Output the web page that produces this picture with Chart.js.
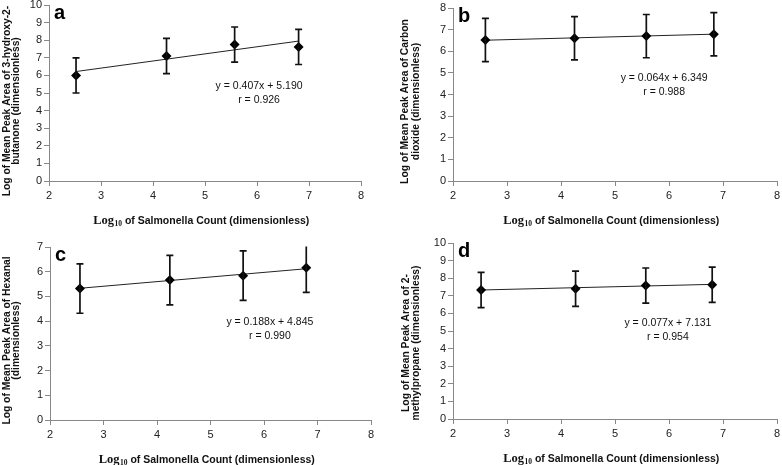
<!DOCTYPE html>
<html>
<head>
<meta charset="utf-8">
<script src="https://cdn.jsdelivr.net/npm/chart.js@4.4.1/dist/chart.umd.min.js"></script>
<style>
  html,body{margin:0;padding:0;background:#fff;}
  body{width:782px;height:465px;position:relative;overflow:hidden;}
  .panel{position:absolute;}
</style>
</head>
<body>
<div class="panel" style="left:0;top:0;width:391px;height:232px"><canvas id="ca" width="391" height="232"></canvas></div>
<div class="panel" style="left:391px;top:0;width:391px;height:232px"><canvas id="cb" width="391" height="232"></canvas></div>
<div class="panel" style="left:0;top:232px;width:391px;height:233px"><canvas id="cc" width="391" height="233"></canvas></div>
<div class="panel" style="left:391px;top:232px;width:391px;height:233px"><canvas id="cd" width="391" height="233"></canvas></div>
<script>
// ---- Data ----
const xTitleLead = "Log";
const xTitleSub = "10";
const xTitleRest = " of Salmonella Count (dimensionless)";
const xTicksRange = [2, 8];

const labelA = "a";
const xA = [2.52, 4.26, 5.57, 6.80];
const yA = [6.00, 7.10, 7.75, 7.62];
const errA = [1.0, 1.0, 1.0, 1.0];
const trendXA = [2.52, 6.80];
const trendYA = [6.22, 7.95];
const eqA = ["y = 0.407x + 5.190", "r = 0.926"];
const yTitleA = ["Log of Mean Peak Area of 3-hydroxy-2-", "butanone (dimensionless)"];
const yMaxA = 10;

const labelB = "b";
const xB = [2.60, 4.25, 5.58, 6.83];
const yB = [6.52, 6.60, 6.70, 6.79];
const errB = [1.0, 1.0, 1.0, 1.0];
const trendXB = [2.60, 6.83];
const trendYB = [6.51, 6.79];
const eqB = ["y = 0.064x + 6.349", "r = 0.988"];
const yTitleB = ["Log of Mean Peak Area of Carbon", "dioxide (dimensionless)"];
const yMaxB = 8;

const labelC = "c";
const xC = [2.56, 4.24, 5.61, 6.79];
const yC = [5.32, 5.66, 5.84, 6.16];
const errC = [1.0, 1.0, 1.0, 1.0];
const trendXC = [2.56, 6.79];
const trendYC = [5.33, 6.12];
const eqC = ["y = 0.188x + 4.845", "r = 0.990"];
const yTitleC = ["Log of Mean Peak Area of Hexanal", "(dimensionless)"];
const yMaxC = 7;

const labelD = "d";
const xD = [2.52, 4.27, 5.57, 6.80];
const yD = [7.33, 7.40, 7.58, 7.63];
const errD = [1.0, 1.0, 1.0, 1.0];
const trendXD = [2.52, 6.80];
const trendYD = [7.33, 7.65];
const eqD = ["y = 0.077x + 7.131", "r = 0.954"];
const yTitleD = ["Log of Mean Peak Area of 2-", "methylpropane (dimensionless)"];
const yMaxD = 10;

// ---- Styling ----
const NARROW = "'Liberation Sans Narrow', 'Liberation Sans', Arial, sans-serif";
const SANS = "'Liberation Sans', Arial, sans-serif";
const SERIF = "'Liberation Serif', 'Times New Roman', serif";

const errorBarPlugin = {
  id: 'errbars',
  afterDatasetsDraw(chart, args, opts) {
    const {ctx, chartArea} = chart;
    const xs = chart.scales.x, ys = chart.scales.y;
    ctx.save();
    ctx.beginPath();
    ctx.rect(chartArea.left, chartArea.top - 0.5, chartArea.right - chartArea.left, chartArea.bottom - chartArea.top + 1);
    ctx.clip();
    ctx.strokeStyle = '#111';
    ctx.lineWidth = 1.7;
    opts.x.forEach((xv, i) => {
      const px = xs.getPixelForValue(xv);
      const lo = ys.getPixelForValue(opts.y[i] - opts.err[i]);
      const hi = ys.getPixelForValue(opts.y[i] + opts.err[i]);
      ctx.beginPath();
      ctx.moveTo(px, lo); ctx.lineTo(px, hi);
      ctx.moveTo(px - 3.5, lo); ctx.lineTo(px + 3.5, lo);
      ctx.moveTo(px - 3.5, hi); ctx.lineTo(px + 3.5, hi);
      ctx.stroke();
    });
    ctx.restore();
  }
};

const annotPlugin = {
  id: 'annot',
  afterDraw(chart, args, opts) {
    const {ctx, chartArea} = chart;
    const xs = chart.scales.x, ys = chart.scales.y;
    ctx.save();
    // panel letter
    ctx.fillStyle = '#000';
    ctx.font = "bold 20px " + SANS;
    ctx.textAlign = 'left';
    ctx.textBaseline = 'top';
    ctx.fillText(opts.letter, chartArea.left + 5, chartArea.top - 2);
    // equation
    ctx.font = "10.5px " + NARROW;
    ctx.fillStyle = '#111';
    ctx.textAlign = 'center';
    ctx.textBaseline = 'middle';
    const cx = xs.getPixelForValue(opts.eqX);
    const cy = ys.getPixelForValue(opts.eqY);
    opts.eq.forEach((t, i) => ctx.fillText(t, cx, cy + i * 14));

    // x-axis title: "Log" (serif) + subscript "10" + rest (sans)
    ctx.textAlign = 'left';
    ctx.textBaseline = 'alphabetic';
    const f1 = "bold 12.5px " + SERIF, f2 = "bold 7.5px " + SERIF, f3 = "bold 10.5px " + NARROW;
    ctx.font = f1; const w1 = ctx.measureText(xTitleLead).width;
    ctx.font = f2; const w2 = ctx.measureText(xTitleSub).width;
    ctx.font = f3; const w3 = ctx.measureText(xTitleRest).width;
    let tx = (chartArea.left + chartArea.right) / 2 - 4 - (w1 + w2 + w3) / 2;
    const base = opts.xTitleBase;
    ctx.fillStyle = '#111';
    ctx.font = f1; ctx.fillText(xTitleLead, tx, base); tx += w1;
    ctx.font = f2; ctx.fillText(xTitleSub, tx + 0.5, base + 2); tx += w2 + 0.5;
    ctx.font = f3; ctx.fillText(xTitleRest, tx, base);

    // y-axis title (two lines, rotated)
    ctx.save();
    const ycen = (chartArea.top + chartArea.bottom) / 2 + opts.yTitleDy;
    ctx.translate(opts.yTitleX, ycen);
    ctx.rotate(-Math.PI / 2);
    ctx.font = "bold 10.3px " + NARROW;
    ctx.textAlign = 'center';
    ctx.textBaseline = 'middle';
    opts.yTitle.forEach((t, i) => ctx.fillText(t, 0, i * opts.yTitleGap));
    ctx.restore();

    ctx.restore();
  }
};

function makeChart(id, p) {
  const W = p.w, H = p.h;
  new Chart(document.getElementById(id), {
    type: 'scatter',
    data: {
      datasets: [
        {
          type: 'line',
          data: p.trendX.map((x, i) => ({x, y: p.trendY[i]})),
          borderColor: '#222',
          borderWidth: 1,
          pointRadius: 0,
          fill: false,
          order: 2
        },
        {
          data: p.x.map((x, i) => ({x, y: p.y[i]})),
          pointStyle: 'rectRot',
          pointRadius: 5,
          backgroundColor: '#000',
          borderColor: '#000',
          borderWidth: 0,
          order: 1
        }
      ]
    },
    options: {
      responsive: false,
      animation: false,
      devicePixelRatio: 1,
      layout: { padding: { left: 0, top: p.top, right: W - p.right, bottom: 0 } },
      plugins: {
        legend: { display: false },
        tooltip: { enabled: false },
        errbars: { x: p.x, y: p.y, err: p.err },
        annot: { letter: p.letter, eq: p.eq, eqX: p.eqX, eqY: p.eqY,
                 xTitleBase: p.xTitleBase, yTitle: p.yTitle, yTitleX: p.yTitleX,
                 yTitleDy: p.yTitleDy, yTitleGap: p.yTitleGap }
      },
      scales: {
        x: {
          type: 'linear',
          min: xTicksRange[0], max: xTicksRange[1],
          ticks: { stepSize: 1, color: '#222', font: { family: SANS, size: 11 }, padding: 3, maxRotation: 0 },
          grid: { drawOnChartArea: false, drawTicks: true, tickLength: 5, color: '#888' },
          border: { display: true, color: '#888', width: 1 },
          afterFit(s) { s.height = H - p.bottom; s.paddingLeft = 0; s.paddingRight = 0; }
        },
        y: {
          type: 'linear',
          min: 0, max: p.yMax,
          ticks: { stepSize: 1, color: '#222', font: { family: SANS, size: 11 }, padding: 2 },
          grid: { drawOnChartArea: false, drawTicks: true, tickLength: 5, color: '#888' },
          border: { display: true, color: '#888', width: 1 },
          afterFit(s) { s.width = p.left; s.paddingTop = 0; s.paddingBottom = 0; }
        }
      }
    },
    plugins: [errorBarPlugin, annotPlugin]
  });
}

makeChart('ca', { w: 391, h: 232, left: 49, right: 361, top: 4, bottom: 181, yMax: yMaxA,
  x: xA, y: yA, err: errA, trendX: trendXA, trendY: trendYA, eq: eqA, eqX: 6.04, eqY: 5.37,
  yTitle: yTitleA, letter: labelA, xTitleBase: 224, yTitleX: 7, yTitleDy: 8, yTitleGap: 9.5 });
makeChart('cb', { w: 391, h: 232, left: 62, right: 386, top: 8, bottom: 181, yMax: yMaxB,
  x: xB, y: yB, err: errB, trendX: trendXB, trendY: trendYB, eq: eqB, eqX: 5.91, eqY: 4.76,
  yTitle: yTitleB, letter: labelB, xTitleBase: 224, yTitleX: 14, yTitleDy: 7, yTitleGap: 11 });
makeChart('cc', { w: 391, h: 233, left: 50, right: 371, top: 15, bottom: 188, yMax: yMaxC,
  x: xC, y: yC, err: errC, trendX: trendXC, trendY: trendYC, eq: eqC, eqX: 6.11, eqY: 3.97,
  yTitle: yTitleC, letter: labelC, xTitleBase: 231, yTitleX: 7, yTitleDy: 7, yTitleGap: 9.5 });
makeChart('cd', { w: 391, h: 233, left: 62, right: 388, top: 11, bottom: 187, yMax: yMaxD,
  x: xD, y: yD, err: errD, trendX: trendXD, trendY: trendYD, eq: eqD, eqX: 5.98, eqY: 5.45,
  yTitle: yTitleD, letter: labelD, xTitleBase: 230, yTitleX: 15, yTitleDy: 12, yTitleGap: 10 });
</script>
</body>
</html>
